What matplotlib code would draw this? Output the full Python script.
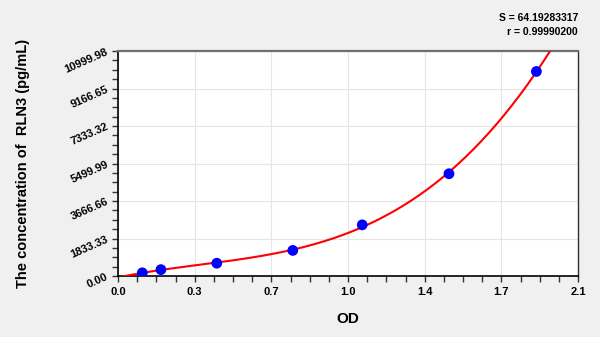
import numpy as np
import matplotlib.pyplot as plt
from matplotlib.ticker import FixedLocator, MultipleLocator

plt.rcParams['font.family'] = ['Liberation Sans', 'DejaVu Sans']

# standard points
od = [0.111, 0.196, 0.451, 0.798, 1.115, 1.511, 1.910]
conc = [156, 312, 625, 1250, 2500, 5000, 10000]

x_ticks = [0.0, 0.35, 0.7, 1.05, 1.4, 1.75, 2.1]
x_labels = ["0.0", "0.3", "0.7", "1.0", "1.4", "1.7", "2.1"]
y_ticks = [0.0, 1833.33, 3666.66, 5499.99, 7333.32, 9166.65, 10999.98]
y_labels = ["0.00", "1833.33", "3666.66", "5499.99", "7333.32", "9166.65", "10999.98"]

fit_s = "64.19283317"
fit_r = "0.99990200"

fig = plt.figure(figsize=(6, 3.37), dpi=100, facecolor="#f0f0f0")
ax = fig.add_axes([118/600, 1 - 276/337, 460/600, 225/337])
ax.set_facecolor("white")

# fitted curve through the standards
coef = np.polyfit(od, conc, 3)
xs = np.linspace(0, 2.1, 300)
ax.plot(xs, np.polyval(coef, xs), color="red", lw=1.5, zorder=3)
ax.scatter(od, conc, s=60, color="blue", zorder=4, edgecolors="none")

ax.set_xlim(0, 2.1)
ax.set_ylim(0, 10999.98)
ax.xaxis.set_major_locator(FixedLocator(x_ticks))
ax.xaxis.set_minor_locator(MultipleLocator(0.0875))
ax.yaxis.set_major_locator(FixedLocator(y_ticks))
ax.yaxis.set_minor_locator(MultipleLocator(1833.33 / 4))
ax.set_xticklabels(x_labels, fontsize=8, fontweight="bold")
ax.set_yticklabels(y_labels, fontsize=8, fontweight="bold", rotation=24,
                   ha="right", va="center", rotation_mode="anchor")
ax.tick_params(which="both", direction="out", length=4, width=1, color="#333333")
ax.tick_params(axis="x", pad=4)
ax.grid(True, which="major", color="#e6e6e6", lw=0.8)
ax.set_axisbelow(True)

ax.spines["top"].set_color("#707070")
ax.spines["top"].set_linewidth(1.6)
ax.spines["right"].set_color("#303030")
ax.spines["right"].set_linewidth(1.0)
ax.spines["left"].set_color("black")
ax.spines["left"].set_linewidth(1.2)
ax.spines["bottom"].set_color("black")
ax.spines["bottom"].set_linewidth(1.2)

ax.set_xlabel("OD", fontsize=11, fontweight="bold", labelpad=11)
fig.text(23/600, 1 - 163/337, "The concentration of  RLN3 (pg/mL)", rotation=90,
         fontsize=10.5, fontweight="bold", ha="center", va="center")

fig.text(578/600, 1 - 18/337, "S = " + fit_s, fontsize=7.5, fontweight="bold",
         ha="right", va="center")
fig.text(578/600, 1 - 32/337, "r = " + fit_r, fontsize=7.5, fontweight="bold",
         ha="right", va="center")

fig.savefig("out.png", dpi=100, facecolor=fig.get_facecolor())
